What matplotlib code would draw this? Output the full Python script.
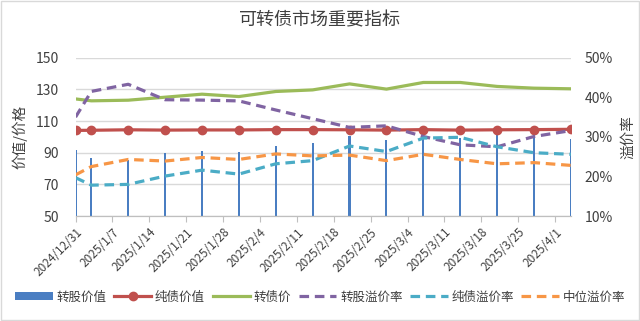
import numpy as np
import pandas as pd
import matplotlib
matplotlib.use("Agg")
import matplotlib.pyplot as plt
from matplotlib.patches import Rectangle

plt.rcParams['font.family'] = ['Noto Sans CJK SC', 'DejaVu Sans']

# 数据
dates = ['2024-12-31', '2025-01-03', '2025-01-10', '2025-01-17', '2025-01-24',
         '2025-01-31', '2025-02-07', '2025-02-14', '2025-02-21', '2025-02-28',
         '2025-03-07', '2025-03-14', '2025-03-21', '2025-03-28', '2025-04-04']
zg_value = [91.8, 86.9, 85.4, 90.0, 91.0, 90.5, 94.3, 96.0, 100.6, 98.0,
            100.2, 99.2, 101.3, 102.3, 98.7]          # 转股价值
cz_value = [104.1, 104.2, 104.5, 104.3, 104.4, 104.4, 104.6, 104.6, 104.5, 104.3,
            104.6, 104.3, 104.5, 104.6, 104.8]        # 纯债价值
zz_price = [124.0, 122.8, 123.2, 125.1, 127.0, 125.5, 128.7, 129.7, 133.5, 130.2,
            134.4, 134.4, 131.9, 130.8, 130.4]        # 转债价
zg_prem = [35.0, 41.5, 43.3, 39.4, 39.3, 39.1, 36.8, 34.6, 32.4, 32.8,
           30.1, 28.0, 27.5, 30.1, 31.6]              # 转股溢价率
cz_prem = [19.7, 17.8, 18.0, 20.1, 21.6, 20.6, 23.2, 24.0, 27.7, 26.3,
           29.7, 29.9, 27.5, 26.0, 25.6]              # 纯债溢价率
mid_prem = [20.4, 22.5, 24.3, 23.9, 24.8, 24.3, 25.7, 25.2, 25.4, 24.0,
            25.6, 24.3, 23.2, 23.5, 22.8]             # 中位溢价率

tick_dates = ['2024-12-31', '2025-01-07', '2025-01-14', '2025-01-21', '2025-01-28',
              '2025-02-04', '2025-02-11', '2025-02-18', '2025-02-25', '2025-03-04',
              '2025-03-11', '2025-03-18', '2025-03-25', '2025-04-01']
tick_labels = ['2024/12/31', '2025/1/7', '2025/1/14', '2025/1/21', '2025/1/28',
               '2025/2/4', '2025/2/11', '2025/2/18', '2025/2/25', '2025/3/4',
               '2025/3/11', '2025/3/18', '2025/3/25', '2025/4/1']

x = pd.to_datetime(dates)
tx = pd.to_datetime(tick_dates)

c_blue = '#4A7EC2'
c_red = '#C0504D'
c_green = '#9BBB59'
c_purple = '#8064A2'
c_teal = '#4BACC6'
c_orange = '#F79646'
c_text = '#404040'

fig = plt.figure(figsize=(6.4, 3.21), dpi=100)
fig.patches.append(Rectangle((0.002, 0.003), 0.996, 0.994, transform=fig.transFigure,
                             fill=False, edgecolor='#D9D9D9', linewidth=1))
ax = fig.add_axes([0.118, 0.327, 0.774, 0.493])
ax2 = ax.twinx()

# 柱状图和左轴折线
ax.bar(x, zg_value, width=0.4, color=c_blue, label='转股价值', zorder=2)
ax.plot(x, cz_value, color=c_red, lw=2.3, marker='o', ms=6, label='纯债价值', zorder=3)
ax.plot(x, zz_price, color=c_green, lw=2.3, label='转债价', zorder=3)
# 右轴溢价率
ax2.plot(x, zg_prem, color=c_purple, lw=2.3, ls=(0, (3, 1.8)), label='转股溢价率')
ax2.plot(x, cz_prem, color=c_teal, lw=2.3, ls=(0, (3, 1.8)), label='纯债溢价率')
ax2.plot(x, mid_prem, color=c_orange, lw=2.3, ls=(0, (3, 1.8)), label='中位溢价率')

ax.set_xlim(pd.Timestamp('2024-12-31'), pd.Timestamp('2025-04-04'))
ax.set_ylim(50, 150)
ax.set_yticks(np.arange(50, 151, 20))
ax2.set_ylim(10, 50)
ax2.set_yticks(np.arange(10, 51, 10))
ax2.set_yticklabels([f'{v}%' for v in range(10, 51, 10)])

ax.set_xticks(tx)
ax.set_xticklabels(tick_labels, rotation=45, ha='right', rotation_mode='anchor',
                   fontsize=8.5, color=c_text)
ax.grid(axis='y', color='#D9D9D9', lw=1, zorder=0)
ax.set_axisbelow(True)

for a in (ax, ax2):
    for s in ('top', 'left', 'right'):
        a.spines[s].set_visible(False)
    a.spines['bottom'].set_color('#BFBFBF')
ax.tick_params(axis='x', length=4, color='#BFBFBF', pad=3)
ax.tick_params(axis='y', length=0, labelsize=10, labelcolor=c_text, pad=12)
ax2.tick_params(axis='y', length=0, labelsize=10, labelcolor=c_text, pad=10)

ax.set_ylabel('价值/价格', fontsize=10.5, color=c_text, labelpad=6)
ax2.set_ylabel('溢价率', fontsize=10.5, color=c_text, labelpad=6)

fig.text(0.5, 0.937, '可转债市场重要指标', ha='center', va='center',
         fontsize=13, color=c_text)

h1, l1 = ax.get_legend_handles_labels()
h2, l2 = ax2.get_legend_handles_labels()
leg_h = [h1[l1.index('转股价值')], h1[l1.index('纯债价值')], h1[l1.index('转债价')]] + h2
leg_l = ['转股价值', '纯债价值', '转债价'] + l2
fig.legend(leg_h, leg_l, loc='center', bbox_to_anchor=(0.5, 0.075), ncol=6,
           frameon=False, fontsize=9, handlelength=3.0, handletextpad=0.3,
           columnspacing=0.6, labelcolor=c_text)

fig.savefig('out.png', dpi=100)
